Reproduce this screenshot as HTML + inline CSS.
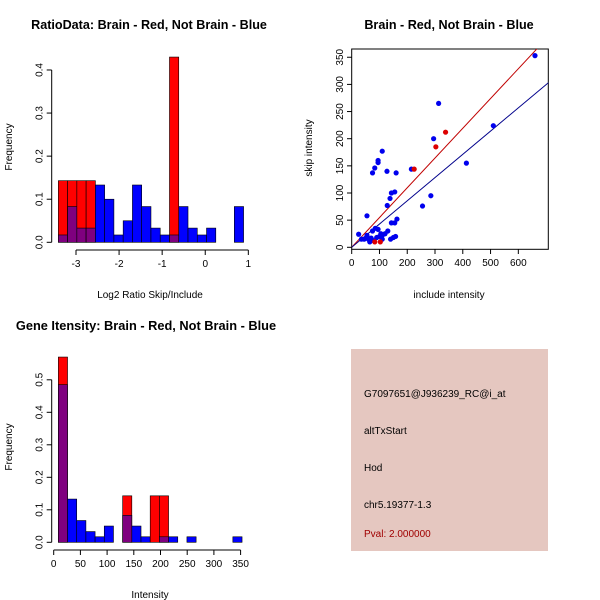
<!DOCTYPE html>
<html><head><meta charset="utf-8"><style>
body{margin:0;background:#fff}
svg{display:block;font-family:"Liberation Sans",sans-serif}
</style></head><body>
<svg id="c" width="600" height="600" viewBox="0 0 600 600">
<text x="149" y="29" font-size="12.6" font-weight="bold" text-anchor="middle">RatioData: Brain - Red, Not Brain - Blue</text>
<text x="449" y="29" font-size="12.6" font-weight="bold" text-anchor="middle">Brain - Red, Not Brain - Blue</text>
<text x="146" y="330" font-size="12.8" font-weight="bold" text-anchor="middle">Gene Itensity: Brain - Red, Not Brain - Blue</text>
<text x="150" y="298" font-size="10" text-anchor="middle">Log2 Ratio Skip/Include</text>
<text transform="translate(12,147) rotate(-90)" font-size="10" text-anchor="middle">Frequency</text>
<text x="449" y="298" font-size="10" text-anchor="middle">include intensity</text>
<text transform="translate(312,148) rotate(-90)" font-size="10" text-anchor="middle">skip intensity</text>
<text x="150" y="598" font-size="10" text-anchor="middle">Intensity</text>
<text transform="translate(12,447) rotate(-90)" font-size="10" text-anchor="middle">Frequency</text>
<g>
<rect x="351" y="349" width="197" height="202" fill="#e5c7c0"/>
<text x="364" y="397" font-size="10">G7097651@J936239_RC@i_at</text>
<text x="364" y="434" font-size="10">altTxStart</text>
<text x="364" y="471" font-size="10">Hod</text>
<text x="364" y="508" font-size="10">chr5.19377-1.3</text>
<text x="364" y="537" font-size="10" fill="#a00000">Pval: 2.000000</text>
</g>
</svg>
<script>
const ratioBlue=[0.017,0.083,0.033,0.033,0.133,0.1,0.017,0.05,0.133,0.083,0.033,0.017,0.017,0.083,0.033,0.017,0.033,0,0,0.083];
const ratioRed=[0.143,0.143,0.143,0.143,0,0,0,0,0,0,0,0,0.43,0,0,0,0,0,0,0];
const ratioXTicks=[-3,-2,-1,0,1];
const ratioYTicks=[0,0.1,0.2,0.3,0.4];
const intBlue=[0.485,0.133,0.067,0.033,0.017,0.05,0,0.083,0.05,0.017,0,0.017,0.017,0,0.017,0,0,0,0,0.017];
const intRed=[0.57,0,0,0,0,0,0,0.143,0,0,0.143,0.143,0,0,0,0,0,0,0,0];
const intXTicks=[0,50,100,150,200,250,300,350];
const intYTicks=[0,0.1,0.2,0.3,0.4,0.5];
const blueX=[660,510,413,313,295,285,255,215,160,127,110,95,95,83,75,155,143,138,128,163,143,155,55,25,95,85,75,130,120,110,100,90,70,60,45,35,65,80,110,140,150,158,105,55];
const blueY=[353,224,155,265,200,95,76,144,137,140,177,160,156,146,137,102,100,90,77,52,45,45,58,24,33,35,30,30,25,22,20,18,17,15,15,15,10,12,15,15,18,20,25,22];
const redX=[225,338,303,83,103];
const redY=[144,212,185,10,10];
const redSlope=0.548, blueSlope=0.428;
const scXTicks=[0,100,200,300,400,500,600];
const scYTicks=[0,50,100,150,200,250,300,350];

const svg=document.getElementById('c');
const NS='http://www.w3.org/2000/svg';
function mk(t,a,p){const e=document.createElementNS(NS,t);for(const k in a)e.setAttribute(k,a[k]);(p||svg).appendChild(e);return e;}

function hist(blue,red,x0,bw,X,Y,xt,yt,xAxisY,yAxisX,prefix){
  const g=mk('g',{});
  
  
  for(let i=0;i<blue.length;i++){
    const xl=X(x0+i*bw), xr=X(x0+(i+1)*bw);
    if(red[i]>0){const r=mk('rect',{x:xl,y:Y(red[i]),width:xr-xl,height:Y(0)-Y(red[i]),fill:'#ff0000',stroke:'#000','stroke-width':0.6},g);
      
      }
    if(blue[i]>0){const b=mk('rect',{x:xl,y:Y(blue[i]),width:xr-xl,height:Y(0)-Y(blue[i]),fill:red[i]>0?'#7f007f':'#0000ff',stroke:'#000','stroke-width':0.6},g);
      
      }
  }
  const ax=mk('g',{stroke:'#000','stroke-width':1,fill:'none'});
  
  
  mk('line',{x1:X(xt[0]),x2:X(xt[xt.length-1]),y1:xAxisY,y2:xAxisY},ax);
  xt.forEach(v=>{mk('line',{x1:X(v),x2:X(v),y1:xAxisY,y2:xAxisY+5},ax);
    const t=mk('text',{x:X(v),y:xAxisY+17,'font-size':10,'text-anchor':'middle'});t.textContent=v;
    
    });
  mk('line',{x1:yAxisX,x2:yAxisX,y1:Y(yt[0]),y2:Y(yt[yt.length-1])},ax);
  yt.forEach(v=>{mk('line',{x1:yAxisX,x2:yAxisX-5,y1:Y(v),y2:Y(v)},ax);
    const t=mk('text',{transform:`translate(${yAxisX-9},${Y(v)}) rotate(-90)`,'font-size':10,'text-anchor':'middle'});t.textContent=v.toFixed(1);
    
    });
}
hist(ratioBlue,ratioRed,-3.41,0.215,v=>76+(v+3)*43.08,v=>242.3-v*430.8,ratioXTicks,ratioYTicks,250,51.7,'ratio');
hist(intBlue,intRed,8.7,17.2,v=>53.7+v*0.534,v=>542.3-v*325,intXTicks,intYTicks,550,51.7,'intensity');

const SX=v=>351.7+v*0.2777, SY=v=>247.3-v*0.543;
const sg=mk('g',{});


const clip=mk('clipPath',{id:'sc'});mk('rect',{x:351.7,y:49,width:196.6,height:200.3},clip);
const box=mk('rect',{x:351.7,y:49,width:196.6,height:200.3,fill:'none',stroke:'#000'},sg);


const lg=mk('g',{'clip-path':'url(#sc)'},sg);
const rl=mk('line',{x1:SX(0),y1:SY(0),x2:SX(800),y2:SY(800*redSlope),stroke:'#c00000'},lg);


const bl=mk('line',{x1:SX(0),y1:SY(0),x2:SX(800),y2:SY(800*blueSlope),stroke:'#00008b'},lg);


blueX.forEach((x,i)=>{const c=mk('circle',{cx:SX(x),cy:SY(blueY[i]),r:2.6,fill:'#0000ee'},sg);
  
  });
redX.forEach((x,i)=>{const c=mk('circle',{cx:SX(x),cy:SY(redY[i]),r:2.6,fill:'#dd0000'},sg);
  
  });
scXTicks.forEach(v=>{mk('line',{x1:SX(v),x2:SX(v),y1:249.3,y2:254,stroke:'#000'},sg);
  const t=mk('text',{x:SX(v),y:266,'font-size':10,'text-anchor':'middle'},sg);t.textContent=v;
  
  });
scYTicks.forEach(v=>{mk('line',{x1:351.7,x2:347,y1:SY(v),y2:SY(v),stroke:'#000'},sg);
  const t=mk('text',{transform:`translate(343,${SY(v)}) rotate(-90)`,'font-size':10,'text-anchor':'middle'},sg);t.textContent=v;
  
  });
</script>
</body></html>
